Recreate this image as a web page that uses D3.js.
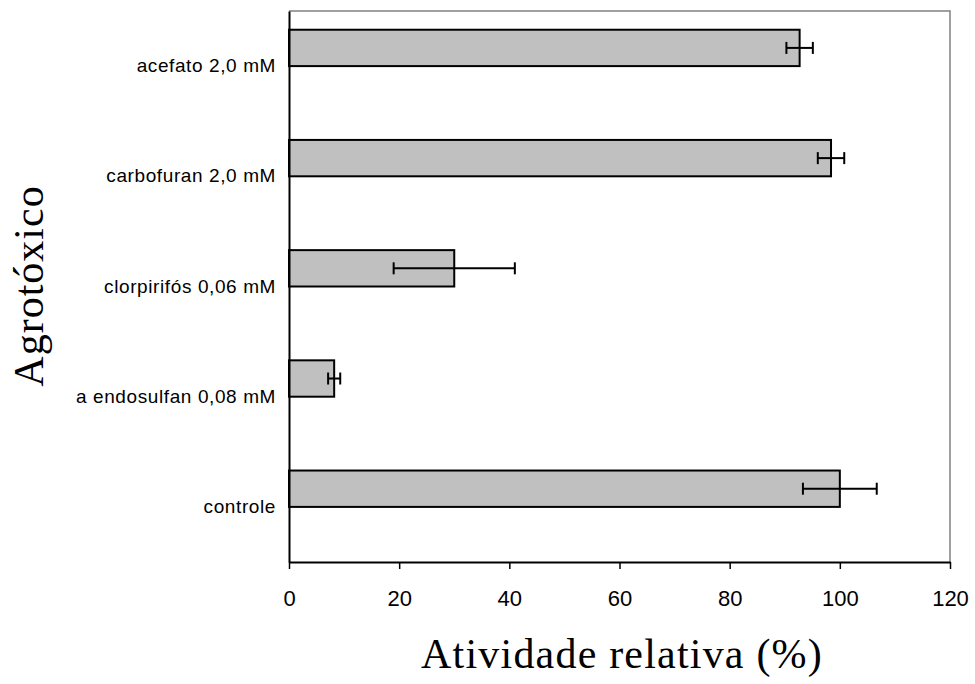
<!DOCTYPE html>
<html>
<head>
<meta charset="utf-8">
<script src="https://cdn.jsdelivr.net/npm/d3@7"></script>
<style>
  html, body { margin: 0; padding: 0; background: #fff; }
  svg { display: block; }
  .sans { font-family: "Liberation Sans", Arial, sans-serif; }
  .serif { font-family: "Liberation Serif", "Times New Roman", serif; }
</style>
</head>
<body>
<svg id="chart" width="975" height="684"></svg>
<script>
// Categories listed top to bottom
const categories = ["acefato 2,0 mM", "carbofuran 2,0 mM", "clorpirifós 0,06 mM", "a endosulfan 0,08 mM", "controle"];
// Relative activity (%) and standard deviation per category
const activity = [92.7, 98.4, 30.0, 8.2, 100.0];
const deviation = [2.4, 2.4, 11.0, 1.1, 6.7];
const xTicks = [0, 20, 40, 60, 80, 100, 120];

const svg = d3.select("#chart");
const m = { left: 289, right: 950, top: 11, bottom: 562 };

const x = d3.scaleLinear().domain([0, 120]).range([m.left, m.right]);
const y = d3.scaleBand().domain(categories).range([m.top, m.bottom]).padding(0);
const bw = y.bandwidth();
const barH = bw * 0.33;

// frame (top and right)
svg.append("path")
  .attr("d", `M${m.left},${m.top}H${m.right}V${m.bottom}`)
  .attr("fill", "none").attr("stroke", "#808080").attr("stroke-width", 1.5);

const rows = categories.map((c, i) => ({ c, v: activity[i], sd: deviation[i] }));

// bars
svg.append("g").selectAll("rect").data(rows).join("rect")
  .attr("x", x(0))
  .attr("y", d => y(d.c) + bw / 2 - barH)
  .attr("width", d => x(d.v) - x(0))
  .attr("height", barH)
  .attr("fill", "#c0c0c0")
  .attr("stroke", "#000").attr("stroke-width", 2);

// error bars
const eb = svg.append("g").attr("stroke", "#000").attr("stroke-width", 2);
rows.forEach(d => {
  const cy = y(d.c) + bw / 2 - barH / 2;
  eb.append("line").attr("x1", x(d.v - d.sd)).attr("x2", x(d.v + d.sd)).attr("y1", cy).attr("y2", cy);
  [d.v - d.sd, d.v + d.sd].forEach(e => {
    eb.append("line").attr("x1", x(e)).attr("x2", x(e)).attr("y1", cy - 6).attr("y2", cy + 6);
  });
});

// x axis
const xAxis = svg.append("g").attr("transform", `translate(0,${m.bottom})`)
  .call(d3.axisBottom(x).tickValues(xTicks).tickSize(7).tickSizeOuter(0).tickPadding(21));
xAxis.attr("font-family", null).attr("font-size", null);
xAxis.select(".domain").attr("stroke", "#000").attr("stroke-width", 2);
xAxis.selectAll(".tick line").attr("stroke", "#000").attr("stroke-width", 1.5);
xAxis.selectAll(".tick text")
  .attr("class", "sans")
  .style("font-size", "22px").attr("fill", "#000");

// y axis
const yAxis = svg.append("g").attr("transform", `translate(${m.left},0)`)
  .call(d3.axisLeft(y).tickSize(0).tickPadding(13));
yAxis.attr("font-family", null).attr("font-size", null);
yAxis.select(".domain").attr("stroke", "#000").attr("stroke-width", 2);
yAxis.selectAll(".tick text")
  .attr("class", "sans")
  .style("font-size", "19px").attr("fill", "#000").style("letter-spacing", "0.6px");

// axis titles
svg.append("text")
  .attr("class", "serif")
  .attr("x", 622).attr("y", 668)
  .attr("text-anchor", "middle")
  .style("font-size", "42px").attr("fill", "#000").style("letter-spacing", "1.2px")
  .text("Atividade relativa (%)");

svg.append("text")
  .attr("class", "serif")
  .attr("transform", "translate(43,286) rotate(-90)")
  .attr("text-anchor", "middle")
  .style("font-size", "42px").attr("fill", "#000").style("letter-spacing", "1px")
  .text("Agrotóxico");
</script>
</body>
</html>
